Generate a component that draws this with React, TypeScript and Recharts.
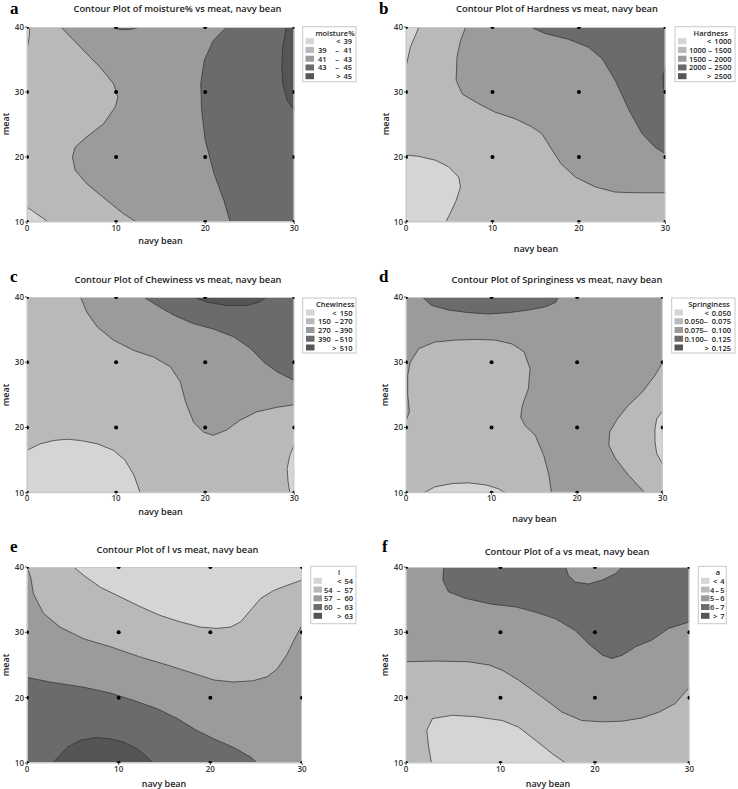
import React from 'react';
import { ScatterChart, Scatter, XAxis, YAxis, Curve } from 'recharts';

type P = [number, number];

// ---- axes / design ----
const navyBeanTicks = [0, 10, 20, 30];
const meatTicks = [10, 20, 30, 40];
const designNavyBean = [0, 10, 20, 30];
const designMeat = [10, 20, 30, 40];
const plotCorners: P[] = [[0, 10], [30, 10], [30, 40], [0, 40]];

// ---- shades (legend order: lowest -> highest) ----
const shades = ['#d5d5d5', '#b9b9b9', '#9b9b9b', '#6b6b6b', '#555555'];

// ---- legend levels ----
const moistureLevels = ['39', '41', '43', '45'];
const hardnessLevels = ['1000', '1500', '2000', '2500'];
const chewinessLevels = ['150', '270', '390', '510'];
const springinessLevels = ['0.050', '0.075', '0.100', '0.125'];
const lLevels = ['54', '57', '60', '63'];
const aLevels = ['4', '5', '6', '7'];

// ---- panel a: moisture% contours (navy bean, meat) ----
const a39Low: P[] = [[0, 12.3], [2.4, 10]];
const a39Top: P[] = [[0, 36.5], [0.25, 38.5], [0.3, 40]];
const a41: P[] = [[3.8, 40], [6.0, 36.9], [8.2, 33.8], [9.7, 31.3], [10.2, 29.2], [9.9, 27.7], [8.6, 25.1], [6.7, 23.1], [5.4, 21.5], [5.1, 20], [5.4, 18], [6.7, 15.9], [9.0, 13.3], [10.8, 11.3], [12.3, 10]];
const a43: P[] = [[22.4, 40], [20.9, 37.9], [19.9, 34.9], [19.5, 31.3], [19.6, 27.2], [20.0, 22.6], [21.0, 17.4], [22.1, 13.3], [22.8, 10]];
const a43Top: P[] = [[9.3, 40], [10.5, 39.6], [11.5, 39.6], [12.7, 40]];
const a45: P[] = [[29.1, 40], [28.7, 36.9], [28.6, 33.8], [28.7, 31.3], [29.2, 28.7], [30, 27.2]];

// ---- panel b: Hardness ----
const b1000Low: P[] = [[0, 20.3], [1.5, 20.1], [3.4, 19.5], [4.9, 18.5], [6.1, 16.9], [6.3, 15.4], [5.8, 13.3], [5.1, 11.3], [4.6, 10]];
const b1000Top: P[] = [[0, 33.8], [0.5, 36.9], [1.5, 40]];
const b1500: P[] = [[6.9, 40], [6.3, 37.9], [5.9, 35.4], [5.8, 31.8], [6.5, 29.7], [8.4, 28.2], [10.3, 26.9], [12.6, 25.9], [14.6, 24.6], [15.7, 23.6], [16.7, 21.5], [17.9, 19.0], [19.6, 16.9], [21.9, 15.4], [24.2, 14.6], [26.5, 14.5], [30, 14.5]];
const b2000: P[] = [[14.4, 40], [16.1, 39.0], [18.8, 38.1], [21.1, 36.9], [22.7, 35.1], [24.2, 31.8], [25.8, 27.2], [27.3, 23.6], [28.8, 21.5], [30, 20.5]];
const b2500: P[] = [[30, 33.8], [29.7, 32.3], [29.8, 30.5], [30, 29.7]];

// ---- panel c: Chewiness ----
const c150Low: P[] = [[0, 16.5], [1.5, 17.5], [3.0, 18.0], [4.5, 18.2], [6.0, 18.0], [7.9, 17.5], [9.7, 16.5], [11.0, 15.0], [12.0, 12.7], [12.7, 10]];
const c150Right: P[] = [[30, 17.4], [29.5, 15.7], [29.2, 13.7], [29.3, 11.7], [29.5, 10]];
const c270: P[] = [[6.0, 40], [6.7, 37.7], [7.9, 35.4], [9.7, 33.4], [12.0, 31.8], [14.2, 30.8], [16.1, 29.3], [17.2, 27.0], [17.8, 23.9], [18.7, 20.8], [19.8, 19.3], [20.9, 18.8], [22.4, 19.6], [23.9, 21.1], [25.8, 22.4], [28.1, 23.1], [30, 23.5]];
const c390: P[] = [[13.1, 40], [14.6, 38.7], [16.5, 37.2], [18.7, 35.9], [20.9, 35.1], [23.2, 33.9], [25.1, 32.1], [26.6, 30.0], [28.1, 28.5], [30, 27.2]];
const c510: P[] = [[18.7, 40], [20.2, 39.2], [22.4, 38.7], [24.7, 38.7], [26.0, 39.2], [26.9, 40]];

// ---- panel d: Springiness ----
const d075Left: P[] = [[0, 21.0], [0.4, 22.4], [0.2, 25.0], [0.2, 28.0], [0.5, 30.0], [1.5, 32.1], [3.4, 33.1], [5.8, 33.4], [8.1, 33.5], [10.4, 33.4], [12.4, 32.8], [13.8, 31.6], [14.5, 29.0], [14.3, 25.9], [13.6, 23.4], [13.4, 21.6], [13.9, 20.3], [15.1, 18.8], [16.1, 15.7], [16.7, 12.7], [17.0, 10]];
const d050Bottom: P[] = [[2.1, 10], [3.4, 10.9], [5.4, 11.4], [7.3, 11.5], [9.3, 11.2], [10.8, 10.6], [11.6, 10]];
const d075Right: P[] = [[27.9, 10], [26.0, 12.7], [24.5, 15.2], [23.7, 17.3], [23.8, 19.3], [24.7, 21.3], [26.0, 23.4], [27.6, 25.4], [29.1, 28.0], [30, 30.0]];
const d050Right: P[] = [[30, 22.6], [29.3, 21.3], [29.1, 19.8], [29.1, 17.8], [29.3, 16.0], [30, 14.4]];
const d100Top: P[] = [[1.9, 40], [3.0, 38.7], [5.0, 38.0], [7.3, 37.6], [9.7, 37.4], [12.0, 37.6], [14.3, 38.0], [16.3, 38.5], [17.5, 39.2], [17.8, 40]];

// ---- panel e: l ----
const e57: P[] = [[0, 40], [0.4, 38.5], [0.7, 35.9], [1.8, 32.9], [3.6, 30.8], [6.2, 29.0], [9.1, 27.8], [12.4, 26.2], [15.3, 25.0], [18.2, 23.7], [20.4, 22.7], [22.5, 22.4], [24.7, 22.6], [26.2, 23.2], [27.3, 24.4], [28.4, 26.7], [29.3, 29.3], [30, 31.1]];
const e54: P[] = [[5.1, 40], [6.2, 38.7], [8.0, 36.9], [10.2, 35.4], [12.4, 33.9], [14.5, 32.6], [16.7, 31.6], [18.9, 30.8], [20.7, 30.6], [22.2, 30.8], [23.3, 31.6], [24.4, 33.4], [25.5, 35.2], [26.9, 36.4], [28.4, 37.2], [30, 38.0]];
const e60: P[] = [[0, 23.1], [2.5, 22.4], [6.2, 21.6], [9.1, 20.7], [11.6, 19.6], [14.2, 18.3], [16.4, 16.8], [18.5, 15.0], [20.7, 13.5], [22.5, 12.4], [24.4, 10.9], [25.1, 10]];
const e63: P[] = [[2.8, 10], [4.4, 12.4], [5.8, 13.5], [7.6, 13.9], [9.1, 13.7], [10.5, 13.2], [12.0, 12.2], [13.1, 10.9], [13.8, 10]];

// ---- panel f: a ----
const f5: P[] = [[0, 25.5], [3.1, 25.6], [6.6, 25.5], [8.8, 25.0], [10.2, 24.2], [11.9, 22.7], [14.4, 20.1], [16.5, 17.8], [18.6, 16.5], [20.8, 16.3], [22.9, 16.4], [25.0, 16.9], [26.8, 17.8], [28.5, 19.1], [30, 21.6]];
const f4: P[] = [[2.7, 10], [2.4, 12.4], [2.2, 15.0], [2.8, 16.8], [4.9, 17.3], [7.3, 17.1], [10.2, 16.5], [11.9, 15.5], [13.7, 13.5], [15.5, 11.4], [16.9, 10]];
const f6: P[] = [[4.0, 40], [3.9, 38.0], [4.5, 36.2], [6.3, 35.2], [9.1, 34.3], [11.6, 33.9], [13.7, 33.1], [15.8, 32.1], [17.9, 30.3], [19.3, 28.3], [20.8, 26.5], [21.8, 26.0], [22.9, 26.5], [24.3, 27.8], [26.0, 28.8], [27.8, 30.6], [30, 31.6]];
const f6Top: P[] = [[16.9, 40], [17.2, 38.7], [17.9, 37.7], [19.3, 37.4], [20.8, 38.0], [22.2, 39.0], [22.9, 40]];

type Region = { lv: number; curve: P[]; corners: P[] };

const regionsA: Region[] = [
  { lv: 0, curve: a39Low, corners: [[0, 10]] },
  { lv: 0, curve: a39Top, corners: [[0, 40]] },
  { lv: 2, curve: a41, corners: [[30, 10], [30, 40]] },
  { lv: 3, curve: a43Top, corners: [] },
  { lv: 3, curve: a43, corners: [[30, 10], [30, 40]] },
  { lv: 4, curve: a45, corners: [[30, 40]] },
];
const regionsB: Region[] = [
  { lv: 0, curve: b1000Low, corners: [[0, 10]] },
  { lv: 0, curve: b1000Top, corners: [[0, 40]] },
  { lv: 2, curve: b1500, corners: [[30, 40]] },
  { lv: 3, curve: b2000, corners: [[30, 40]] },
  { lv: 4, curve: b2500, corners: [] },
];
const regionsC: Region[] = [
  { lv: 0, curve: c150Low, corners: [[0, 10]] },
  { lv: 0, curve: c150Right, corners: [[30, 10]] },
  { lv: 2, curve: c270, corners: [[30, 40]] },
  { lv: 3, curve: c390, corners: [[30, 40]] },
  { lv: 4, curve: c510, corners: [] },
];
const regionsD: Region[] = [
  { lv: 1, curve: d075Left, corners: [[0, 10]] },
  { lv: 0, curve: d050Bottom, corners: [] },
  { lv: 1, curve: d075Right, corners: [[30, 10]] },
  { lv: 0, curve: d050Right, corners: [] },
  { lv: 3, curve: d100Top, corners: [] },
];
const regionsE: Region[] = [
  { lv: 1, curve: e57, corners: [[30, 40]] },
  { lv: 0, curve: e54, corners: [[30, 40]] },
  { lv: 3, curve: e60, corners: [[0, 10]] },
  { lv: 4, curve: e63, corners: [] },
];
const regionsF: Region[] = [
  { lv: 1, curve: f5, corners: [[30, 10], [0, 10]] },
  { lv: 0, curve: f4, corners: [] },
  { lv: 3, curve: f6, corners: [[30, 40]] },
  { lv: 2, curve: f6Top, corners: [] },
];

const FONT = "'Open Sans', 'Noto Sans', 'DejaVu Sans', sans-serif";

const panels = [
  { id: 'a', base: 1, regions: regionsA, levels: moistureLevels, legendTitle: 'moisture%',
    title: 'Contour Plot of moisture% vs meat, navy bean',
    plot: { l: 26.7, t: 26.7, r: 294, b: 221.7 }, titleX: 177.5, titleY: 8.5, letter: { x: 10, y: 13.5 },
    xl: { x: 160.5, y: 240.5 }, yl: { x: 5.5, y: 124 },
    legend: { x: 302.7, y: 26.7, w: 53.3, h: 55, sw: 305.5, low: 318, dash: 337, high: 352 } },
  { id: 'b', base: 1, regions: regionsB, levels: hardnessLevels, legendTitle: 'Hardness',
    title: 'Contour Plot of Hardness vs meat, navy bean',
    plot: { l: 406.3, t: 26.7, r: 665.7, b: 221.7 }, titleX: 557, titleY: 8.5, letter: { x: 379, y: 14 },
    xl: { x: 536, y: 248 }, yl: { x: 385, y: 124 },
    legend: { x: 675, y: 26.7, w: 60, h: 55, sw: 678, low: 689, dash: 710, high: 731.5 } },
  { id: 'c', base: 1, regions: regionsC, levels: chewinessLevels, legendTitle: 'Chewiness',
    title: 'Contour Plot of Chewiness vs meat, navy bean',
    plot: { l: 26.7, t: 297, r: 294, b: 492.7 }, titleX: 178, titleY: 279.3, letter: { x: 10, y: 282 },
    xl: { x: 160.5, y: 511 }, yl: { x: 5.5, y: 395 },
    legend: { x: 302.7, y: 298, w: 53.3, h: 55, sw: 306, low: 318, dash: 336.5, high: 352.5 } },
  { id: 'd', base: 2, regions: regionsD, levels: springinessLevels, legendTitle: 'Springiness',
    title: 'Contour Plot of Springiness vs meat, navy bean',
    plot: { l: 406.3, t: 297, r: 663, b: 492.7 }, titleX: 557, titleY: 279.3, letter: { x: 379, y: 282 },
    xl: { x: 534.5, y: 518.5 }, yl: { x: 384, y: 395 },
    legend: { x: 671.7, y: 298, w: 63.3, h: 55, sw: 674.5, low: 684.5, dash: 705.5, high: 731 } },
  { id: 'e', base: 2, regions: regionsE, levels: lLevels, legendTitle: 'l',
    title: 'Contour Plot of l vs meat, navy bean',
    plot: { l: 26.7, t: 567, r: 301.7, b: 763 }, titleX: 177.5, titleY: 549.7, letter: { x: 10, y: 552 },
    xl: { x: 164, y: 783 }, yl: { x: 5.5, y: 665 },
    legend: { x: 310.7, y: 566.3, w: 45.3, h: 57.4, sw: 313.5, low: 324, dash: 338.5, high: 353 } },
  { id: 'f', base: 2, regions: regionsF, levels: aLevels, legendTitle: 'a',
    title: 'Contour Plot of a vs meat, navy bean',
    plot: { l: 406.3, t: 567, r: 689.7, b: 763 }, titleX: 567, titleY: 551, letter: { x: 382, y: 552 },
    xl: { x: 548, y: 783.5 }, yl: { x: 384, y: 665 },
    legend: { x: 698.3, y: 566.3, w: 28, h: 57.4, sw: 701, low: 710, dash: 717, high: 724.5 } },
];

const toPts = (arr: P[]) => arr.map(([x, y]) => ({ x, y }));
const designPoints = designNavyBean.flatMap((x) => designMeat.map((y) => ({ x, y })));

const hidden = () => <g />;
const fillLine = (color: string) => (p: any) => (
  <Curve points={p.points} type="linearClosed" fill={color} stroke="none" />
);
const strokeLine = (p: any) => (
  <Curve points={p.points} type="linear" fill="none" stroke="#2e2e2e" strokeWidth={0.7} />
);
const dot = (p: any) => <circle cx={p.cx} cy={p.cy} r={2} fill="#000" />;

const tickStyle = { fontSize: 8, fill: '#333', fontWeight: 600, fontFamily: FONT };

function ContourPanel({ cfg }: { cfg: any }) {
  const { plot, base, regions } = cfg;
  const ML = 26, MT = 10, MR = 10, MB = 24;
  const w = plot.r - plot.l + ML + MR;
  const h = plot.b - plot.t + MT + MB;
  return (
    <div style={{ position: 'absolute', left: plot.l - ML, top: plot.t - MT }}>
      <ScatterChart width={w} height={h} margin={{ top: MT, right: MR, bottom: 0, left: 0 }}>
        <XAxis type="number" dataKey="x" domain={[0, 30]} ticks={navyBeanTicks} allowDataOverflow
          height={MB} tick={tickStyle} tickSize={2} tickMargin={1}
          axisLine={{ stroke: '#c4c4c4' }} tickLine={{ stroke: '#444' }} />
        <YAxis type="number" dataKey="y" domain={[10, 40]} ticks={meatTicks} allowDataOverflow
          width={ML} tick={tickStyle} tickSize={2} tickMargin={1}
          axisLine={{ stroke: '#c4c4c4' }} tickLine={{ stroke: '#444' }} />
        <Scatter data={toPts(plotCorners)} shape={hidden} line={fillLine(shades[base])} isAnimationActive={false} />
        {regions.map((r: Region, i: number) => (
          <Scatter key={'f' + i} data={toPts([...r.curve, ...r.corners])} shape={hidden}
            line={fillLine(shades[r.lv])} isAnimationActive={false} />
        ))}
        {regions.map((r: Region, i: number) => (
          <Scatter key={'s' + i} data={toPts(r.curve)} shape={hidden} line={strokeLine} isAnimationActive={false} />
        ))}
        <Scatter data={toPts(plotCorners)} shape={hidden}
          line={(p: any) => <Curve points={p.points} type="linearClosed" fill="none" stroke="#c8c8c8" strokeWidth={2} />}
          isAnimationActive={false} />
        <Scatter data={designPoints} shape={dot} isAnimationActive={false} />
      </ScatterChart>
    </div>
  );
}

function LegendBox({ cfg }: { cfg: any }) {
  const L = cfg.legend;
  const lv: string[] = cfg.levels;
  const swW = 8.5;
  const rows = [
    { low: '', op: '<', high: lv[0] },
    { low: lv[0], op: '–', high: lv[1] },
    { low: lv[1], op: '–', high: lv[2] },
    { low: lv[2], op: '–', high: lv[3] },
    { low: '', op: '>', high: lv[3] },
  ];
  const txt = { fontFamily: FONT, fontSize: 7.5, fill: '#222', fontWeight: 600 } as const;
  return (
    <g>
      <rect x={L.x} y={L.y} width={L.w} height={L.h} fill="#fff" stroke="#c8c8c8" strokeWidth={1} />
      <text x={(L.sw + swW + L.x + L.w) / 2} y={L.y + 6} textAnchor="middle" dominantBaseline="central" {...txt}>{cfg.legendTitle}</text>
      {rows.map((r, i) => {
        const cy = L.y + 14.5 + i * 8.75;
        return (
          <g key={i}>
            <rect x={L.sw} y={cy - 3} width={swW} height={6} fill={shades[i]} />
            {r.low ? (
              <>
                <text x={L.low} y={cy} dominantBaseline="central" {...txt}>{r.low}</text>
                <text x={L.dash} y={cy} textAnchor="middle" dominantBaseline="central" {...txt}>{r.op}</text>
                <text x={L.high} y={cy} textAnchor="end" dominantBaseline="central" {...txt}>{r.high}</text>
              </>
            ) : (
              <text x={L.high} y={cy} textAnchor="end" dominantBaseline="central" {...txt}>
                {r.op}
                <tspan dx={3}>{r.high}</tspan>
              </text>
            )}
          </g>
        );
      })}
    </g>
  );
}

export default function App() {
  return (
    <div style={{ position: 'absolute', left: 0, top: 0, width: 738, height: 789, background: '#fff', overflow: 'hidden' }}>
      {panels.map((p) => <ContourPanel key={p.id} cfg={p} />)}
      <svg width={738} height={789} style={{ position: 'absolute', left: 0, top: 0, pointerEvents: 'none' }}>
        {panels.map((p) => (
          <g key={p.id}>
            <text x={p.letter.x} y={p.letter.y} fontFamily="'Liberation Serif', 'DejaVu Serif', serif" fontWeight={700} fontSize={17} fill="#000">{p.id}</text>
            <text x={p.titleX} y={p.titleY} textAnchor="middle" dominantBaseline="central" fontFamily={FONT} fontWeight={600} fontSize={9.3} fill="#222">{p.title}</text>
            <text x={p.xl.x} y={p.xl.y} textAnchor="middle" dominantBaseline="central" fontFamily={FONT} fontWeight={600} fontSize={9} fill="#222">navy bean</text>
            <text x={p.yl.x} y={p.yl.y} textAnchor="middle" dominantBaseline="central" fontFamily={FONT} fontWeight={600} fontSize={9} fill="#222" transform={`rotate(-90 ${p.yl.x} ${p.yl.y})`}>meat</text>
            <LegendBox cfg={p} />
          </g>
        ))}
      </svg>
    </div>
  );
}
